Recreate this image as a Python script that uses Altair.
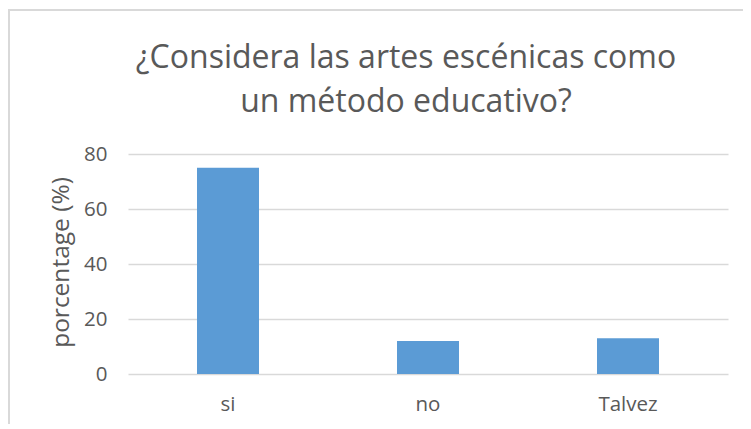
import altair as alt
import pandas as pd

categories = ["si", "no", "Talvez"]
values = [75, 12, 13]
title_lines = ["¿Considera las artes escénicas como", "un método educativo?"]
y_title = "porcentage (%)"
y_ticks = [0, 20, 40, 60, 80]

FONT = "Open Sans"
GRAY = "#595959"

df = pd.DataFrame({"respuesta": categories, "porcentaje": values})

bars = alt.Chart(df).mark_bar(color="#5b9bd5").encode(
    x=alt.X(
        "respuesta:N",
        sort=categories,
        title=None,
        scale=alt.Scale(paddingInner=0.69, paddingOuter=0.345),
        axis=alt.Axis(
            labelAngle=0, ticks=False, domain=False, labelPadding=20,
            labelFontSize=20.5, labelColor=GRAY, labelFont=FONT,
        ),
    ),
    y=alt.Y(
        "porcentaje:Q",
        title=y_title,
        scale=alt.Scale(domain=[0, 80]),
        axis=alt.Axis(
            values=y_ticks, ticks=False, domain=False,
            gridColor="#d9d9d9", gridWidth=1.5,
            labelPadding=21, labelFontSize=20.5, labelColor=GRAY, labelFont=FONT,
            titleFontSize=24.5, titleColor=GRAY, titleFont=FONT, titleFontWeight="normal",
            titleX=-67, titleY=108, titleAlign="center", titleBaseline="middle", titleAngle=270,
        ),
    ),
)

frame = alt.Chart(pd.DataFrame({"f": [0]})).mark_rect(
    filled=False, stroke="#d9d9d9", strokeWidth=2
).encode(
    x=alt.value(-119), x2=alt.value(700), y=alt.value(-144), y2=alt.value(300)
)

chart = alt.layer(frame, bars).properties(
    width=600,
    height=220,
    padding={"left": 120, "top": 146, "right": 15, "bottom": 50},
    autosize=alt.AutoSizeParams(type="none"),
    background="white",
    title=alt.TitleParams(
        text=title_lines, fontSize=32, font=FONT, color=GRAY, fontWeight="normal",
        anchor="middle", dx=-22, offset=-110, lineHeight=44,
    ),
).configure_view(stroke=None)

chart.save("out.html", embed_options={"renderer": "svg", "actions": False})
